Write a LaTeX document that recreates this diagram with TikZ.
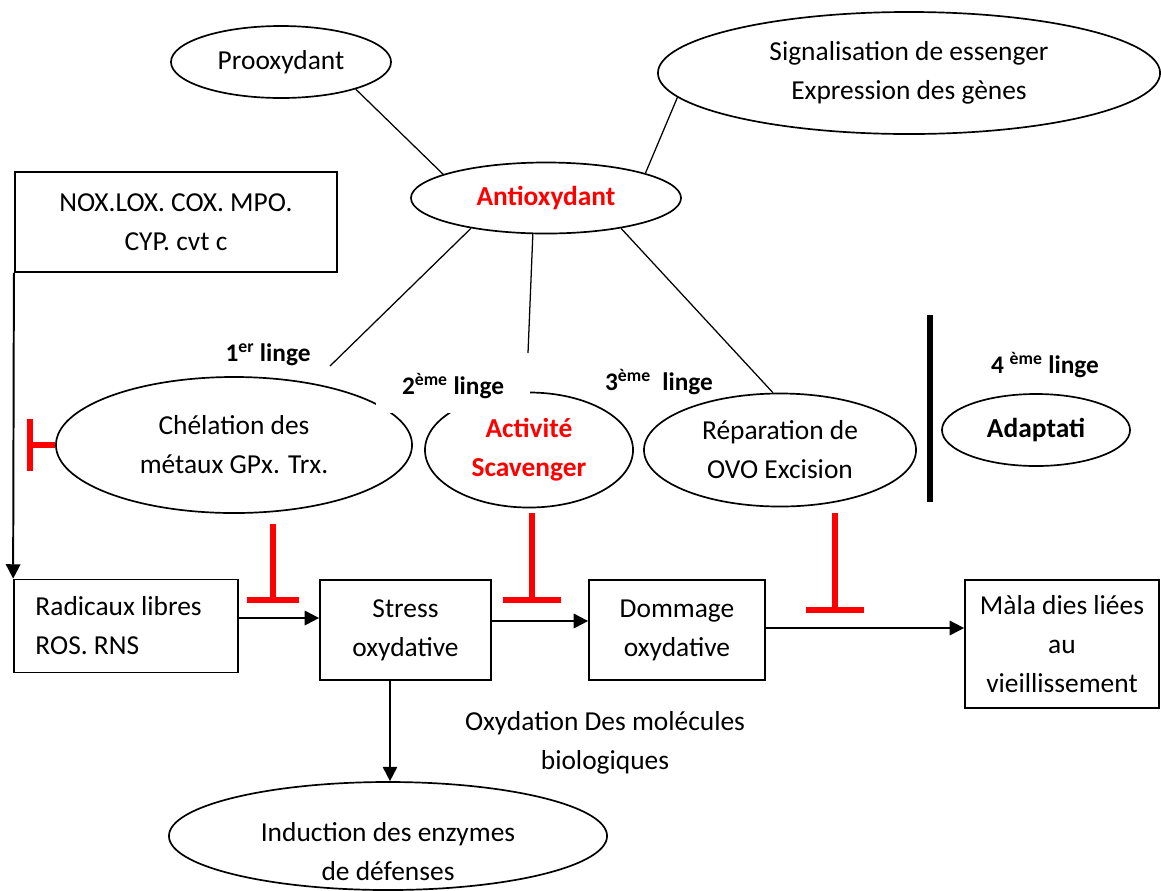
\documentclass[tikz,border=0pt]{standalone}
\usepackage{fontspec}
\setmainfont{Carlito}
\usetikzlibrary{shapes.geometric,arrows.meta}

\newcommand{\diagfont}{\fontsize{19.5}{27.7}\selectfont}

\begin{document}
\begin{tikzpicture}[x=0.025cm,y=-0.025cm,font=\diagfont,
    ell/.style={ellipse,draw,line width=1.2pt,inner sep=0pt,align=center},
    box/.style={rectangle,draw,line width=1.2pt,inner sep=0pt,align=center},
    lab/.style={font=\fontsize{18}{22}\selectfont\bfseries},
    link/.style={line width=0.9pt},
    flow/.style={line width=1.4pt,-{Triangle[length=0.36cm,width=0.36cm]}},
    inhib/.style={draw=red,line width=4pt}]
  \useasboundingbox (0,0) rectangle (1161,890);
  \clip (0,0) rectangle (1161,890);

  % top
  \node[ell,minimum width=5.5cm,minimum height=1.8cm] (proo) at (281,62) {Prooxydant};
  \node[ell,minimum width=12.55cm,minimum height=3.05cm] (sig) at (909,73) {Signalisation de essenger\\Expression des gènes};
  \node[ell,minimum width=6.75cm,minimum height=1.775cm,text=red,font=\diagfont\bfseries] (anti) at (546,198) {Antioxydant};
  \node[box,minimum width=8.06cm,minimum height=2.5cm] (nox) at (176,222) {NOX.LOX. COX. MPO.\\CYP. cvt c};

  % lines of defence
  \node[ell,minimum width=8.9cm,minimum height=3.4cm] (chel) at (234,445) {Chélation des\\métaux GPx. Trx.};
  \node[ell,minimum width=5.2cm,minimum height=2.875cm,text=red,font=\diagfont\bfseries] (scav) at (529,450) {Activité\\Scavenger};
  \node[ell,minimum width=6.8cm,minimum height=2.825cm] (repa) at (780,450) {Réparation de\\OVO Excision};
  \node[ell,minimum width=4.7cm,minimum height=1.8cm,font=\diagfont\bfseries] (adap) at (1036,430) {Adaptati};

  \node[lab] (l1) at (268,355) {1\textsuperscript{er} linge};
  \node[lab,fill=white,minimum width=3.85cm,minimum height=1.325cm] (l2) at (453,386) {2\textsuperscript{ème} linge};
  \node[lab] (l3) at (659,382) {3\textsuperscript{ème}\ \ linge};
  \node[lab] (l4) at (1045,365) {4 \textsuperscript{ème} linge};

  \draw[line width=4.5pt] (930,315) -- (930,502);

  % bottom row
  \node[box,minimum width=5.6cm,minimum height=2.325cm,text width=4.525cm,align=flush left] (rad) at (126,626) {Radicaux libres\\ROS. RNS};
  \node[box,minimum width=4.275cm,minimum height=2.5cm] (stress) at (405.5,630) {Stress\\oxydative};
  \node[box,minimum width=4.4cm,minimum height=2.5cm] (domm) at (677,630) {Dommage\\oxydative};
  \node[box,minimum width=4.85cm,minimum height=3.2cm] (mala) at (1062,644) {Màla dies liées\\au\\vieillissement};
  \node[ell,minimum width=10.95cm,minimum height=2.7cm] (induc) at (388,836) {};
  \node[align=center] (induct) at (388,852) {Induction des enzymes\\de défenses};
  \node[align=center] (oxyd) at (605,743) {Oxydation Des molécules\\biologiques};

  % links
  \coordinate (c1) at (330,366);
  \coordinate (c2) at (528,353);
  \draw[link] (proo.-20) -- (anti.167);
  \draw[link] (anti.14) -- (sig.186);
  \draw[link] (anti.202) -- (c1);
  \draw[link] (anti.250) -- (c2);
  \draw[link] (anti.-22) -- (repa.97);

  \draw[flow] (nox.south west) -- (rad.north west);
  \draw[flow] (rad.east |- 0,618) -- (stress.west |- 0,618);
  \draw[flow] (stress.east |- 0,621) -- (domm.west |- 0,621);
  \draw[flow] (domm.east |- 0,628) -- (mala.west |- 0,628);
  \draw[flow] (stress.south -| 390,0) -- (induc.north -| 390,0);

  % inhibitions
  \coordinate (hL) at (27,445);
  \draw[inhib,-{Bar[width=1.3cm]}] (chel.west) -- (hL);
  \foreach \n/\x/\ya/\yb/\w in {1/273/524/603/1.275cm,2/532/513/603/1.45cm,3/835/513/613/1.45cm}{
    \coordinate (h\n a) at (\x,\ya);
    \coordinate (h\n b) at (\x,\yb);
    \draw[inhib,-{Bar[width=\w]}] (h\n a) -- (h\n b);
  }
\end{tikzpicture}
\end{document}
